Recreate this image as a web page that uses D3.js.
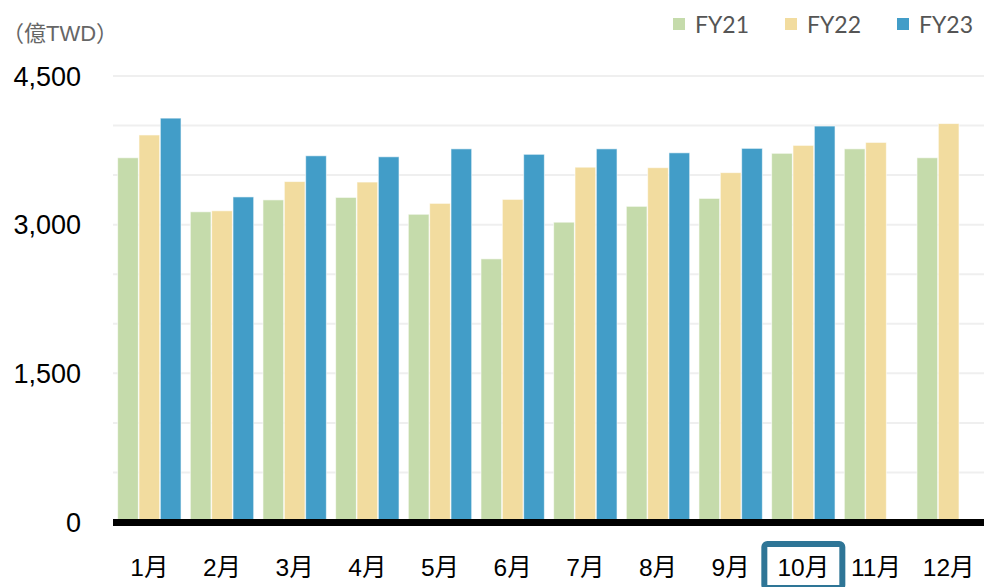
<!DOCTYPE html>
<html>
<head>
<meta charset="utf-8">
<script src="https://cdn.jsdelivr.net/npm/d3@7"></script>
<style>
  html, body { margin: 0; padding: 0; background: #fff; }
  svg { display: block; }
</style>
</head>
<body>
<svg id="chart" width="984" height="587"></svg>
<script>
// 月份与年度数据（億TWD）
const months = ['1月', '2月', '3月', '4月', '5月', '6月', '7月', '8月', '9月', '10月', '11月', '12月'];
const series = ['FY21', 'FY22', 'FY23'];
const fy21 = [3675, 3130, 3250, 3275, 3105, 2655, 3025, 3185, 3265, 3720, 3765, 3675];
const fy22 = [3905, 3140, 3435, 3430, 3215, 3255, 3580, 3575, 3525, 3800, 3830, 4020];
const fy23 = [4075, 3280, 3695, 3685, 3765, 3710, 3765, 3725, 3770, 3995, null, null];
const yTicks = [0, 1500, 3000, 4500];
const gridTicks = d3.range(500, 4501, 500);
const colors = ['#c5dbab', '#f2dc9f', '#429dc8'];
const highlightMonth = '10月';

const svg = d3.select('#chart');
const plotL = 113, plotR = 985, plotT = 76, plotB = 522;

const x = d3.scaleBand().domain(months).range([plotL, plotR])
  .paddingInner(0.11).paddingOuter(0.055);
const xs = d3.scaleBand().domain(series).range([0, x.bandwidth()]).padding(0.03);
const y = d3.scaleLinear().domain([0, 4500]).range([plotB, plotT]);

// 网格线
svg.append('g')
  .selectAll('line')
  .data(gridTicks)
  .join('line')
  .attr('x1', plotL).attr('x2', 984)
  .attr('y1', d => y(d)).attr('y2', d => y(d))
  .attr('stroke', '#efefef')
  .attr('stroke-width', 2);

// 柱子
const data = months.map((m, i) => ({ m, vals: [fy21[i], fy22[i], fy23[i]] }));
svg.append('g')
  .selectAll('g')
  .data(data)
  .join('g')
  .attr('transform', d => `translate(${x(d.m)},0)`)
  .selectAll('rect')
  .data(d => d.vals.map((v, k) => ({ v, k })).filter(e => e.v != null))
  .join('rect')
  .attr('x', d => xs(series[d.k]))
  .attr('width', xs.bandwidth())
  .attr('y', d => y(d.v))
  .attr('height', d => y(0) - y(d.v))
  .attr('fill', d => colors[d.k])
  .attr('stroke', '#fff')
  .attr('stroke-opacity', 0.6)
  .attr('stroke-width', 1);

// 基线
svg.append('line')
  .attr('x1', plotL).attr('x2', 984)
  .attr('y1', y(0) + 0.5).attr('y2', y(0) + 0.5)
  .attr('stroke', '#000')
  .attr('stroke-width', 7);

// Y 轴标签
svg.append('g')
  .selectAll('text')
  .data(yTicks)
  .join('text')
  .attr('x', 81)
  .attr('y', d => y(d))
  .attr('dy', '0.36em')
  .attr('text-anchor', 'end')
  .attr('font-family', '"Liberation Sans", Arial, sans-serif')
  .attr('font-size', 27)
  .attr('fill', '#000')
  .text(d => d3.format(',')(d));

svg.append('text')
  .attr('x', 2).attr('y', 41)
  .attr('font-family', '"Liberation Sans", "Noto Sans CJK TC", sans-serif')
  .attr('font-size', 22)
  .attr('fill', '#666')
  .text('（億TWD）');

// 10月高亮框
svg.append('rect')
  .attr('x', x(highlightMonth) + x.bandwidth() / 2 - 39)
  .attr('y', 544)
  .attr('width', 78)
  .attr('height', 44)
  .attr('rx', 3)
  .attr('fill', 'none')
  .attr('stroke', '#2e7596')
  .attr('stroke-width', 6);

// X 轴标签
svg.append('g')
  .selectAll('text')
  .data(months)
  .join('text')
  .attr('x', d => x(d) + x.bandwidth() / 2)
  .attr('y', 576)
  .attr('text-anchor', 'middle')
  .attr('font-family', '"Liberation Sans", "Noto Sans CJK TC", sans-serif')
  .attr('font-size', 24.5)
  .attr('fill', '#000')
  .text(d => d);

// 图例
const legendX = [673, 785, 897];
const legend = svg.append('g')
  .selectAll('g')
  .data(series)
  .join('g')
  .attr('transform', (d, i) => `translate(${legendX[i]},18)`);
legend.append('rect')
  .attr('width', 12).attr('height', 12)
  .attr('fill', (d, i) => colors[i]);
legend.append('text')
  .attr('x', 22).attr('y', 14.5)
  .attr('font-family', 'Lato, sans-serif')
  .attr('font-size', 23)
  .attr('fill', '#555')
  .text(d => d);
</script>
</body>
</html>
